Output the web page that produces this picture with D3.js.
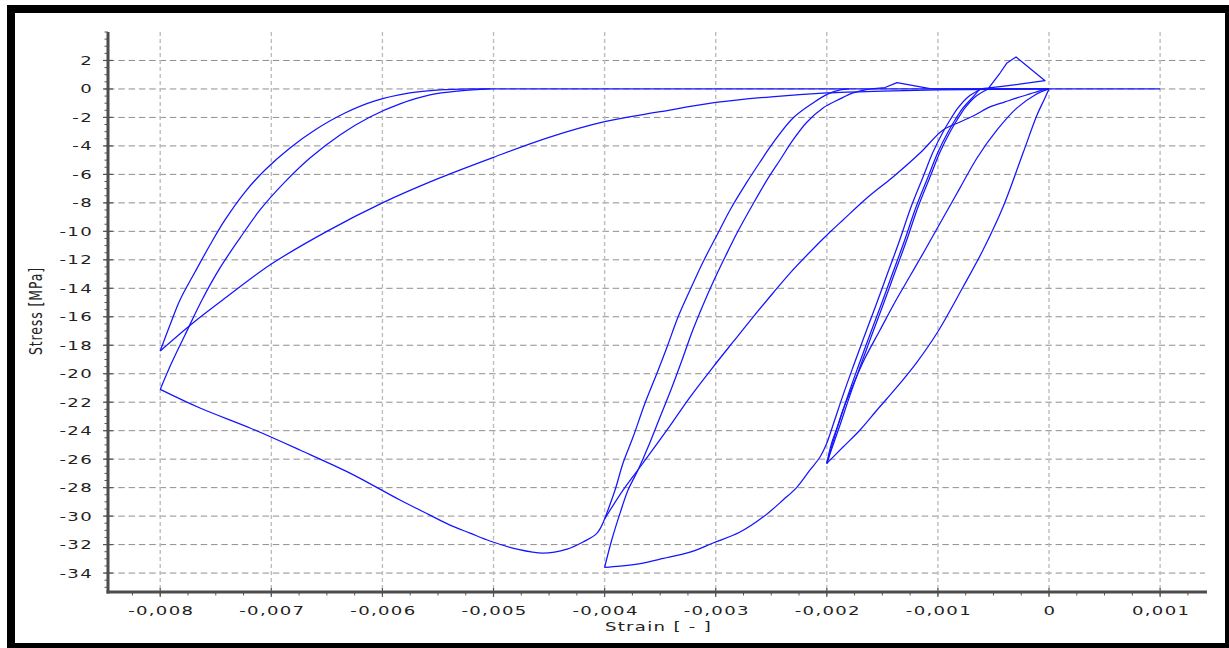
<!DOCTYPE html>
<html>
<head>
<meta charset="utf-8">
<script src="https://cdnjs.cloudflare.com/ajax/libs/d3/7.8.5/d3.min.js"></script>
<style>
  html, body { margin: 0; padding: 0; background: #fff; }
  svg { display: block; }
  text { font-family: "DejaVu Sans", Verdana, sans-serif; fill: #222; }
</style>
</head>
<body>
<svg id="chart" width="1229" height="648"></svg>
<script>
// ---- Cyclic compression test: stress–strain branches, in loading order ----
// Each branch is a list of [strain, stress (MPa)] points.

// 0 -> -0.002, first loading
const initialLoading = [
  [0, 0], [-0.000045, -0.77], [-0.000108, -1.83], [-0.000234, -4.50], [-0.000414, -8.29],
  [-0.000594, -11.31], [-0.000774, -13.91], [-0.001008, -17.14], [-0.001188, -19.18],
  [-0.001368, -20.93], [-0.001548, -22.55], [-0.001701, -23.95], [-0.001854, -25.15], [-0.002, -26.3]
];

// unloading from -0.002
const unloading1 = [
  [-0.002, -26.3], [-0.001944, -25.01], [-0.001881, -23.60], [-0.001791, -21.50], [-0.001701, -19.53],
  [-0.001602, -17.42], [-0.001494, -15.17], [-0.001386, -12.86], [-0.001287, -10.75], [-0.001179, -8.29],
  [-0.001071, -6.18], [-0.000981, -4.43], [-0.000891, -3.02], [-0.000828, -2.18], [-0.000756, -1.33],
  [-0.000666, -0.56], [-0.000549, 0]
];

// tension excursion and return
const tensionBranch = [
  [-0.000549, 0], [-0.000441, 1.12], [-0.000378, 1.83], [-0.000297, 2.25],
  [-0.000036, 0.58], [-0.000441, 0.16], [-0.000621, 0]
];

// reloading to -0.002
const reloading2 = [
  [-0.000621, 0], [-0.000684, -0.56], [-0.000774, -1.33], [-0.000846, -2.18], [-0.000909, -3.02],
  [-0.000999, -4.43], [-0.001089, -6.18], [-0.001197, -8.29], [-0.001305, -10.75], [-0.001404, -12.86],
  [-0.001512, -15.17], [-0.001620, -17.42], [-0.001719, -19.53], [-0.001809, -21.50], [-0.001899, -23.60],
  [-0.001962, -25.01], [-0.002, -26.3]
];

// unloading from -0.002 back to the origin
const unloading2 = [
  [-0.002, -26.3], [-0.001926, -24.31], [-0.001854, -22.55], [-0.001764, -20.79], [-0.001656, -18.90],
  [-0.001521, -16.93], [-0.001386, -14.96], [-0.001251, -13.14], [-0.001116, -11.31], [-0.000954, -9.06],
  [-0.000801, -6.95], [-0.000648, -4.85], [-0.000468, -2.88], [-0.000288, -1.33], [-0.000126, -0.42], [0, 0]
];

// reloading through -0.002 onto the envelope, up to -0.004
const reloading3 = [
  [-0.000612, 0], [-0.000729, -0.56], [-0.000819, -1.33], [-0.000891, -2.18], [-0.000954, -3.02],
  [-0.001044, -4.43], [-0.001134, -6.18], [-0.001242, -8.29], [-0.001350, -10.75], [-0.001449, -12.86],
  [-0.001557, -15.17], [-0.001665, -17.42], [-0.001764, -19.53], [-0.001854, -21.50], [-0.001944, -23.60],
  [-0.002007, -25.01], [-0.002061, -25.85], [-0.002151, -26.76], [-0.002268, -27.96], [-0.002394, -28.87],
  [-0.002574, -30.07], [-0.002781, -31.12], [-0.003024, -31.89], [-0.003231, -32.53], [-0.003501, -33.02],
  [-0.003654, -33.30], [-0.003861, -33.51], [-0.004, -33.6]
];

// unloading from -0.004 (first)
const unloading3 = [
  [-0.004, -33.6], [-0.003936, -31.68], [-0.003861, -29.79], [-0.003789, -28.17], [-0.003699, -26.76],
  [-0.003609, -25.15], [-0.003501, -23.04], [-0.003393, -20.93], [-0.003303, -19.04], [-0.003213, -17.07],
  [-0.003114, -15.17], [-0.003015, -13.42], [-0.002907, -11.66], [-0.002799, -9.98], [-0.002664, -8.08],
  [-0.002538, -6.39], [-0.002421, -4.99], [-0.002304, -3.58], [-0.002178, -2.32], [-0.002034, -1.33],
  [-0.001881, -0.70], [-0.001764, -0.28], [-0.001656, -0.07], [-0.0016, 0]
];

// crack closing with a small tensile bump
const crackClosing = [
  [-0.0016, 0], [-0.001476, 0.10], [-0.001368, 0.44], [-0.001071, 0.03], [-0.001, 0], [0, 0]
];

// reloading from the origin to -0.004
const reloading4 = [
  [0, 0], [-0.000054, -0.07], [-0.000171, -0.35], [-0.000288, -0.63], [-0.000396, -0.91],
  [-0.000531, -1.26], [-0.000666, -1.83], [-0.000801, -2.32], [-0.000954, -2.88], [-0.001161, -4.50],
  [-0.001404, -6.18], [-0.001629, -7.59], [-0.001854, -9.20], [-0.001971, -10.05], [-0.002151, -11.45],
  [-0.002331, -12.93], [-0.002484, -14.33], [-0.002664, -16.02], [-0.002844, -17.77], [-0.003024, -19.53],
  [-0.003231, -21.64], [-0.003438, -23.95], [-0.003654, -26.27], [-0.003834, -28.17], [-0.004, -30.2]
];

// unloading from -0.004 (second)
const unloading4 = [
  [-0.004, -30.2], [-0.003906, -28.17], [-0.003834, -26.27], [-0.003744, -24.45], [-0.003636, -22.06],
  [-0.003528, -19.95], [-0.003438, -18.12], [-0.003339, -16.02], [-0.003231, -14.12], [-0.003114, -12.15],
  [-0.002979, -10.12], [-0.002871, -8.50], [-0.002718, -6.53], [-0.002601, -5.13], [-0.002484, -3.79],
  [-0.002304, -2.04], [-0.002124, -0.98], [-0.001989, -0.35], [-0.001881, -0.07], [-0.0018, 0]
];

// post-peak softening, -0.004 -> -0.008
const softening = [
  [-0.004, -30.2], [-0.004068, -31.19], [-0.004194, -31.82], [-0.004338, -32.32], [-0.004554, -32.60],
  [-0.004788, -32.32], [-0.005032, -31.75], [-0.005212, -31.19], [-0.005392, -30.63], [-0.005572, -29.93],
  [-0.005842, -28.87], [-0.006292, -26.98], [-0.006742, -25.36], [-0.007192, -23.81], [-0.007642, -22.41],
  [-0.008, -21.1]
];

// unloading from -0.008 (first)
const unloading5 = [
  [-0.008, -21.1], [-0.007894, -19.18], [-0.007777, -17.28], [-0.007624, -14.82], [-0.007462, -12.57],
  [-0.007282, -10.47], [-0.007102, -8.50], [-0.006877, -6.53], [-0.006652, -4.85], [-0.006382, -3.23],
  [-0.006112, -1.97], [-0.005842, -1.05], [-0.005572, -0.42], [-0.005302, -0.14], [-0.005032, 0]
];

// reloading from the origin to -0.008
const reloading5 = [
  [0, 0], [-0.0005, -0.03], [-0.001, -0.07], [-0.0015, -0.15], [-0.002, -0.28], [-0.0025, -0.55],
  [-0.003, -0.95], [-0.0035, -1.6], [-0.004, -2.3], [-0.0045, -3.4], [-0.005, -4.8], [-0.0055, -6.3],
  [-0.006, -8.0], [-0.0065, -10.0], [-0.007, -12.3], [-0.0074, -14.6], [-0.0077, -16.4], [-0.008, -18.4]
];

// unloading from -0.008 (second)
const unloading6 = [
  [-0.008, -18.4], [-0.007912, -16.58], [-0.007822, -14.82], [-0.007687, -12.86], [-0.007552, -10.96],
  [-0.007417, -9.20], [-0.007237, -7.24], [-0.007057, -5.69], [-0.006832, -4.14], [-0.006607, -2.88],
  [-0.006337, -1.69], [-0.006067, -0.84], [-0.005752, -0.28], [-0.005482, -0.07], [-0.005212, 0]
];

// open crack: zero stress up to the final strain
const openCrack = [[-0.005212, 0], [0.001, 0]];

// smooth branches are splined, the tensile excursions keep their corners
const smoothBranches = [
  initialLoading, unloading1, reloading2, unloading2, reloading3, unloading3,
  reloading4, unloading4, softening, unloading5, reloading5, unloading6
];
const angularBranches = [tensionBranch, crackClosing, openCrack];

// ---- Axes ticks ----
const strainTicks = [-0.008, -0.007, -0.006, -0.005, -0.004, -0.003, -0.002, -0.001, 0, 0.001];
const stressTicks = [2, 0, -2, -4, -6, -8, -10, -12, -14, -16, -18, -20, -22, -24, -26, -28, -30, -32, -34];
const xTitle = "Strain [ - ]";
const yTitle = "Stress [MPa]";

// ---- Layout ----
const W = 1229, H = 648;
const plot = { left: 108, right: 1207, top: 32, bottom: 592 };

const x = d3.scaleLinear().domain([-0.00847, 0.001422]).range([plot.left, plot.right]);
const y = d3.scaleLinear().domain([4.0, -35.33]).range([plot.top, plot.bottom]);

const svg = d3.select("#chart");

// frame
svg.append("rect").attr("x", 7).attr("y", 5).attr("width", W - 7).attr("height", H - 5).attr("fill", "#000");
svg.append("rect").attr("x", 15).attr("y", 13).attr("width", 1210).attr("height", 630).attr("fill", "#fff");

const STRETCH = 1.45;
const FONT = 12.5;
const SPACING = 0.9;

const locale = d3.formatLocale({ decimal: ",", thousands: ".", grouping: [3], currency: ["", ""], minus: "-" });
const fmtStrain = v => (v === 0 ? "0" : locale.format(".3f")(v));
const fmtStress = v => locale.format("d")(v);

// grid
const grid = svg.append("g");
grid.selectAll("line.h").data(stressTicks).join("line")
  .attr("x1", plot.left).attr("x2", 1205)
  .attr("y1", d => y(d)).attr("y2", d => y(d))
  .attr("stroke", "#8f8f8f").attr("stroke-width", 1).attr("stroke-dasharray", "6.5,3.8");
grid.selectAll("line.v").data(strainTicks).join("line")
  .attr("x1", d => x(d)).attr("x2", d => x(d))
  .attr("y1", plot.top).attr("y2", plot.bottom)
  .attr("stroke", "#bdbdbd").attr("stroke-width", 1.4).attr("stroke-dasharray", "4,3");

// minor ticks
const yMinor = d3.range(4, -35.3, -0.5);
const xMinor = d3.range(-0.0085, 0.00142, 0.00025).filter(v => v >= -0.00847);
const axes = svg.append("g").attr("stroke", "#555");
axes.selectAll("line.ym").data(yMinor).join("line")
  .attr("x1", plot.left - 3.5).attr("x2", plot.left)
  .attr("y1", d => y(d)).attr("y2", d => y(d)).attr("stroke-width", 1);
axes.selectAll("line.xm").data(xMinor).join("line")
  .attr("x1", d => x(d)).attr("x2", d => x(d))
  .attr("y1", plot.bottom).attr("y2", plot.bottom + 3.5).attr("stroke-width", 1);
// major ticks crossing the axes
axes.selectAll("line.yM").data(stressTicks).join("line")
  .attr("x1", plot.left - 5).attr("x2", plot.left + 5)
  .attr("y1", d => y(d)).attr("y2", d => y(d)).attr("stroke-width", 1.2);
axes.selectAll("line.xM").data(strainTicks).join("line")
  .attr("x1", d => x(d)).attr("x2", d => x(d))
  .attr("y1", plot.bottom - 4).attr("y2", plot.bottom + 5).attr("stroke-width", 1.2);
// axis lines
axes.append("line").attr("x1", plot.left).attr("x2", plot.left)
  .attr("y1", plot.top).attr("y2", plot.bottom + 1.5).attr("stroke-width", 3).attr("stroke", "#4d4d4d");
axes.append("line").attr("x1", plot.left - 1.5).attr("x2", plot.right)
  .attr("y1", plot.bottom).attr("y2", plot.bottom).attr("stroke-width", 3).attr("stroke", "#4d4d4d");

// tick labels
const labels = svg.append("g").style("font-size", FONT + "px").style("letter-spacing", SPACING + "px");
labels.selectAll("text.y").data(stressTicks).join("text")
  .attr("text-anchor", "end").attr("dy", "0.36em")
  .attr("transform", d => `translate(93,${y(d)}) scale(${STRETCH},1)`)
  .text(fmtStress);
labels.selectAll("text.x").data(strainTicks).join("text")
  .attr("text-anchor", "middle")
  .attr("transform", d => `translate(${x(d) + 1},615) scale(${STRETCH},1)`)
  .text(fmtStrain);

// axis titles
labels.append("text").attr("text-anchor", "middle")
  .attr("transform", `translate(${(plot.left + plot.right) / 2 + 1},631) scale(${STRETCH},1)`)
  .text(xTitle);
labels.append("text").attr("text-anchor", "middle")
  .attr("transform", `translate(42,311) rotate(-90) scale(1,${STRETCH})`)
  .text(yTitle);

// curves
const curveGroup = svg.append("g")
  .attr("fill", "none").attr("stroke", "#1414ff").attr("stroke-width", 1.25)
  .attr("stroke-linejoin", "round");
const smoothLine = d3.line().x(d => x(d[0])).y(d => y(d[1])).curve(d3.curveCatmullRom.alpha(0.5));
const straightLine = d3.line().x(d => x(d[0])).y(d => y(d[1]));
curveGroup.selectAll("path.s").data(smoothBranches).join("path").attr("d", smoothLine);
curveGroup.selectAll("path.a").data(angularBranches).join("path").attr("d", straightLine);
</script>
</body>
</html>
